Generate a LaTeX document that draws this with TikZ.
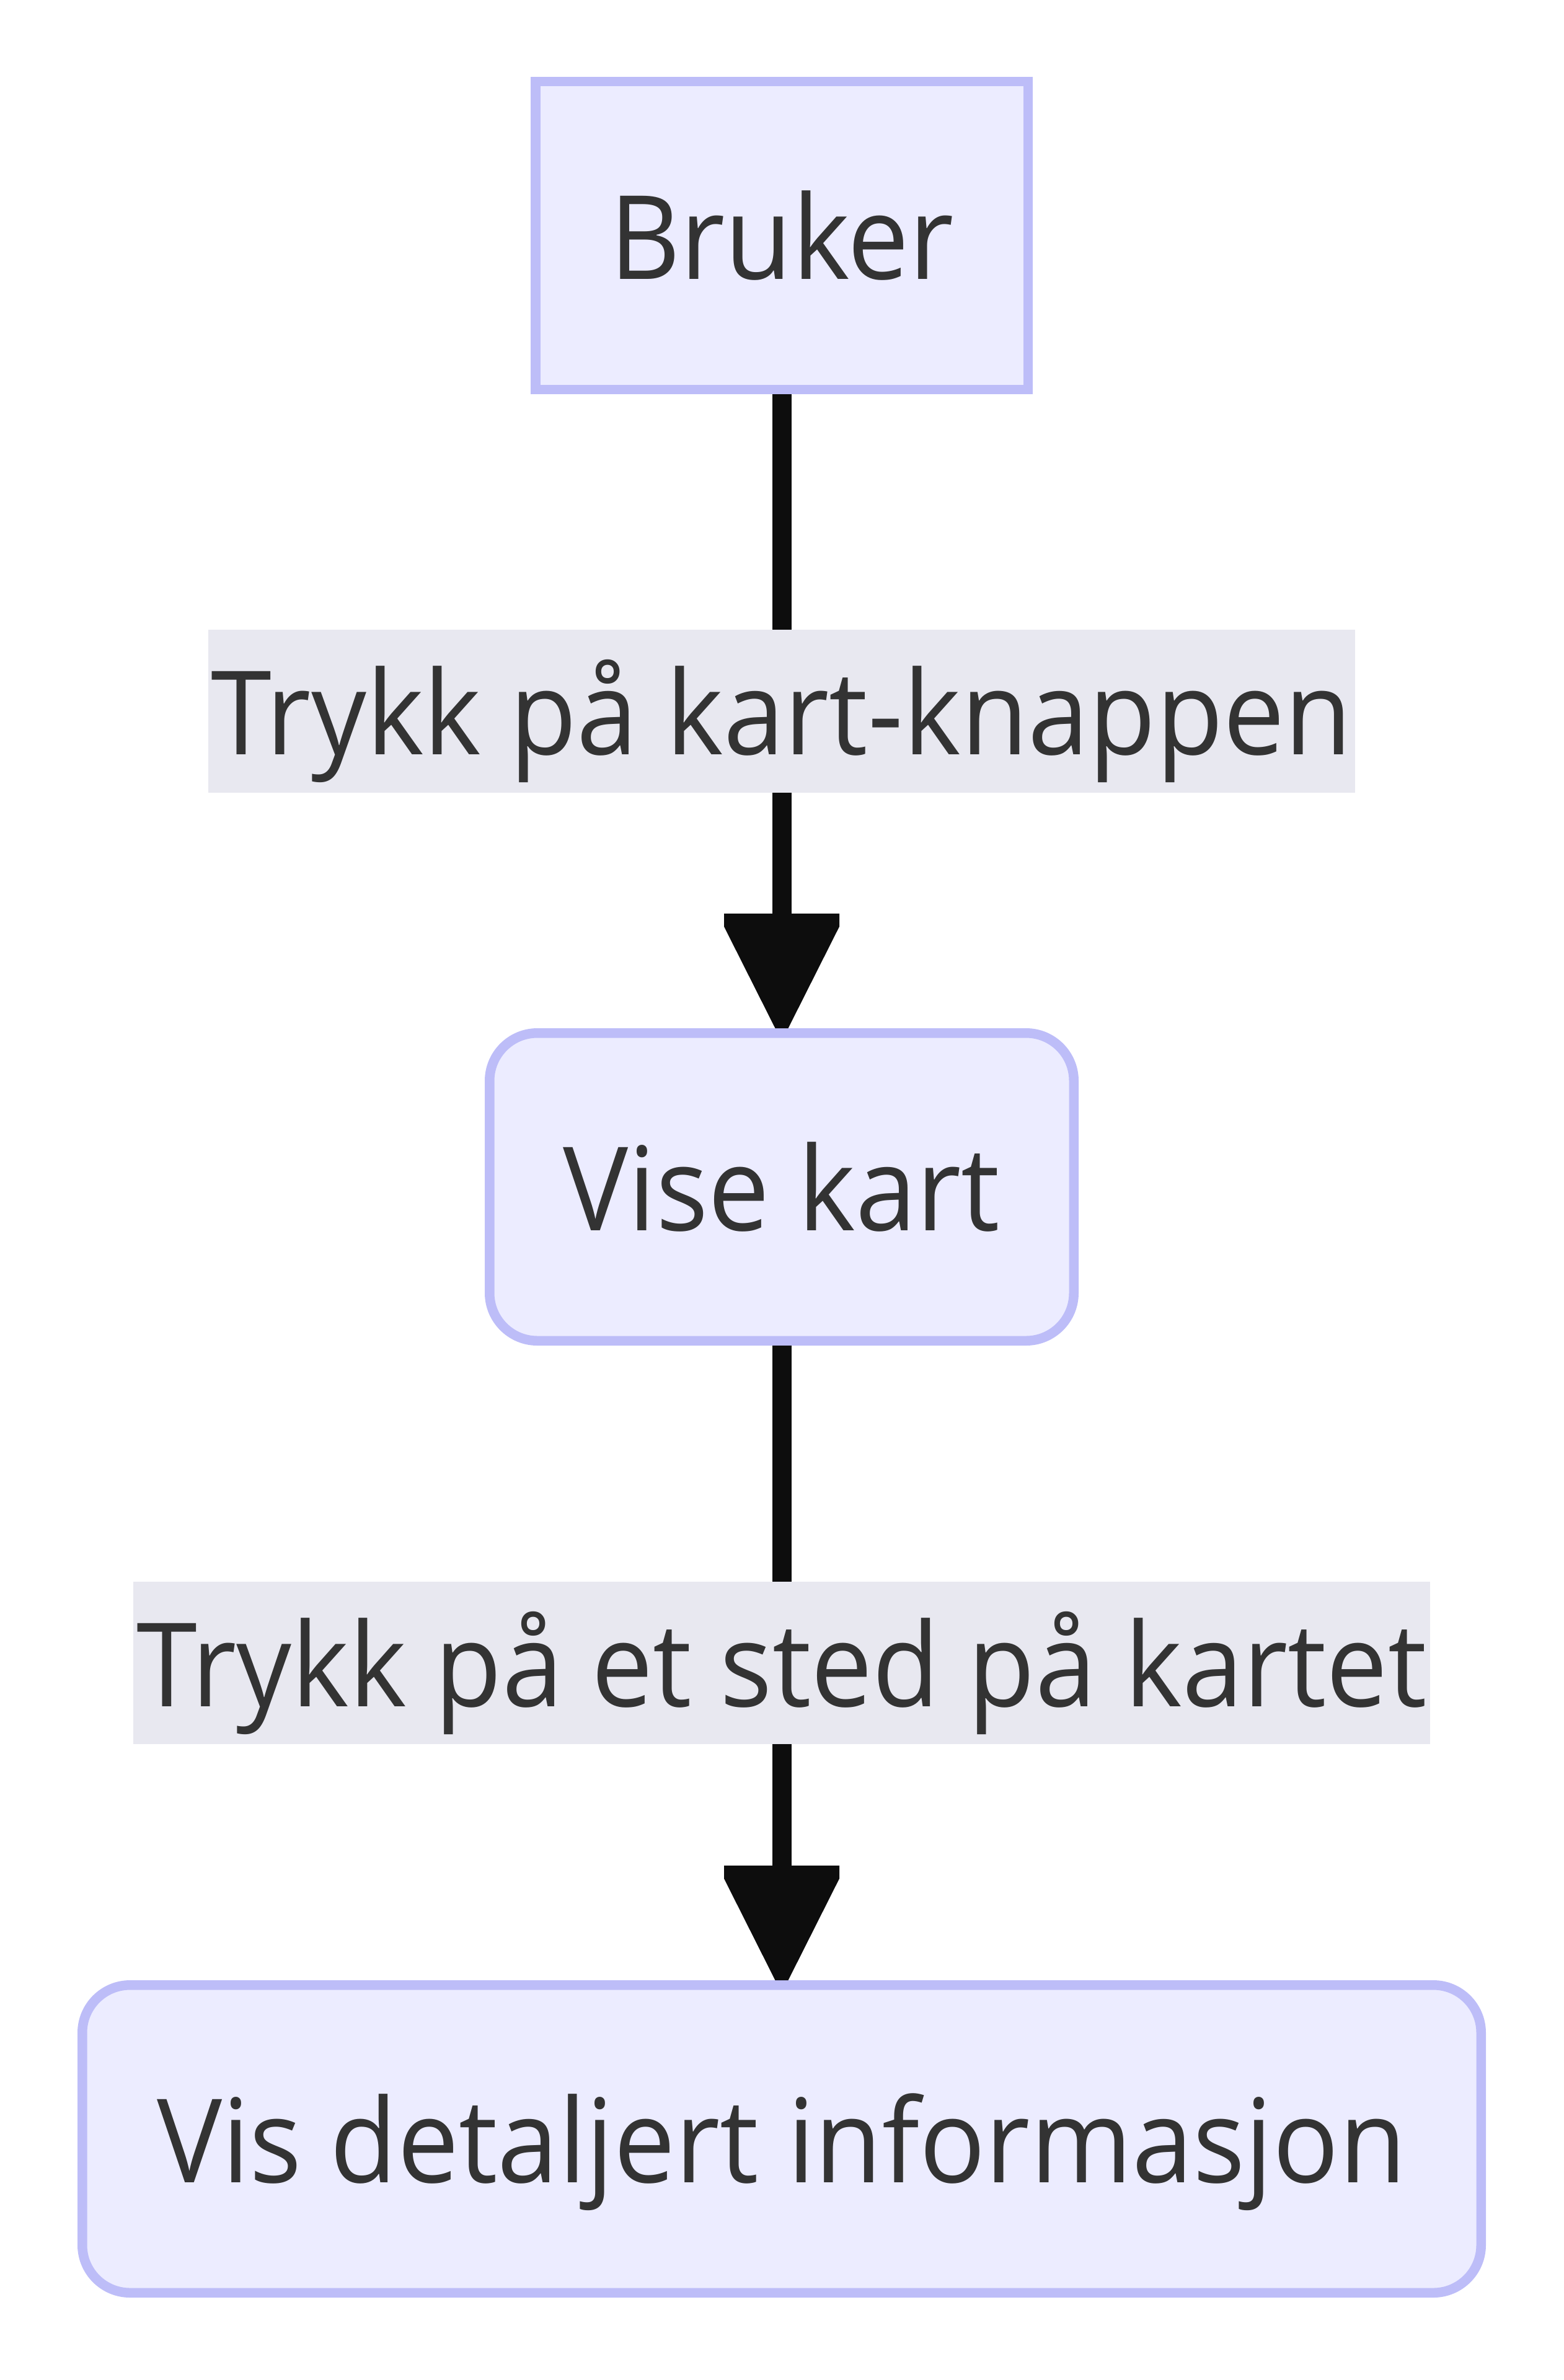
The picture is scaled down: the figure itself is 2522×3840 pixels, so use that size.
\documentclass[tikz,border=0pt]{standalone}
\usepackage{fontspec}
\setmainfont[FakeStretch=0.94]{Open Sans}
\usetikzlibrary{calc}
\definecolor{nodefill}{HTML}{ECECFF}
\definecolor{nodestroke}{HTML}{BDBDF8}
\definecolor{labelfill}{HTML}{E8E8F0}
\definecolor{txt}{HTML}{333333}
\definecolor{edge}{HTML}{0D0D0D}
\tikzset{
  base/.style={font=\fontsize{188}{220}\selectfont, text=txt, text height=140pt, text depth=0pt, inner sep=0pt},
  boxnode/.style={base, draw=nodestroke, fill=nodefill, line width=15.5pt, minimum height=496.5pt},
  roundnode/.style={boxnode, rounded corners=77pt},
  elabel/.style={base, fill=labelfill},
  conn/.style={draw=edge, line width=31pt},
  tiphead/.style={fill=edge},
}
\begin{document}
\begin{tikzpicture}[x=1pt,y=-1pt]
\useasboundingbox (0,0) rectangle (2522,3840);
\node[boxnode, minimum width=794.5pt] (bruker) at (1261,380) {Bruker};
\node[roundnode, minimum width=942.5pt] (vise) at (1261,1915) {Vise kart};
\node[roundnode, minimum width=2256.5pt] (vis) at (1261,3451) {Vis detaljert informasjon};
\draw[conn] (bruker.south) -- ($(vise.north)+(0,-180)$);
\fill[tiphead] (vise.north) ++(-10.5,0) -- ++(21,0) -- ++(82.5,-164) -- ++(0,-21) -- ++(-186,0) -- ++(0,21) -- cycle;
\draw[conn] (vise.south) -- ($(vis.north)+(0,-180)$);
\fill[tiphead] (vis.north) ++(-10.5,0) -- ++(21,0) -- ++(82.5,-164) -- ++(0,-21) -- ++(-186,0) -- ++(0,21) -- cycle;
\node[elabel, minimum width=1850pt, minimum height=263pt] (l1) at (1261,1147.5) {Trykk på kart-knappen};
\node[elabel, minimum width=2092pt, minimum height=262pt] (l2) at (1261,2683) {Trykk på et sted på kartet};
\end{tikzpicture}
\end{document}
